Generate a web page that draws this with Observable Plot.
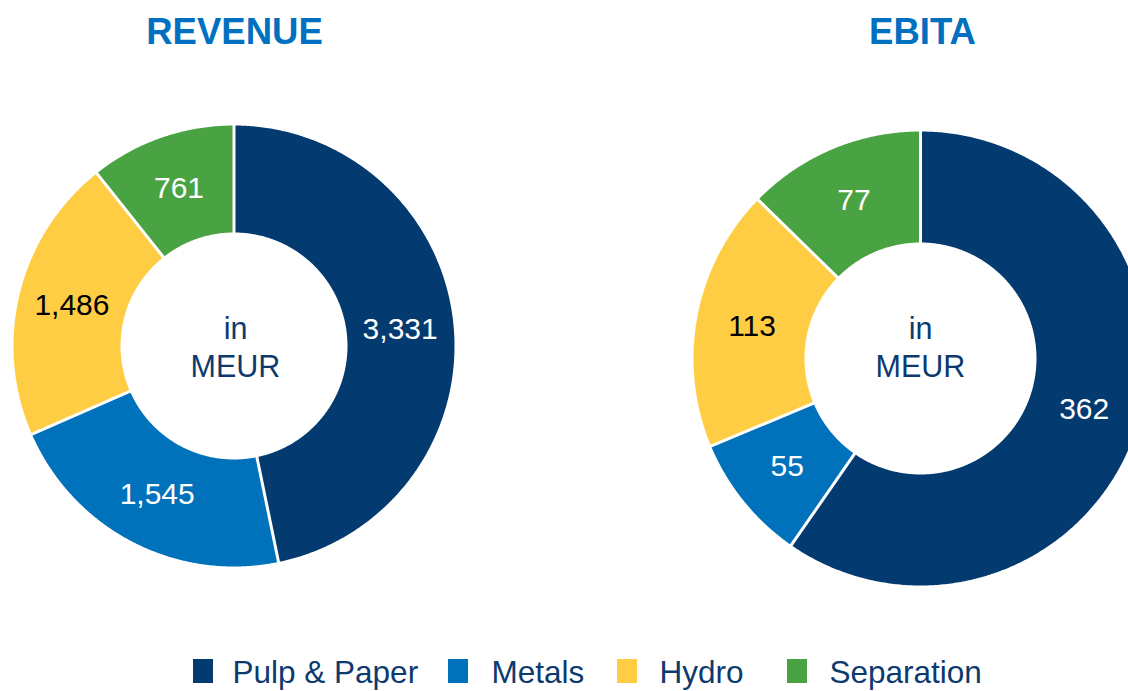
<!DOCTYPE html>
<html><head><meta charset="utf-8">
<script src="https://cdn.jsdelivr.net/npm/d3@7"></script>
<script src="https://cdn.jsdelivr.net/npm/@observablehq/plot@0.6"></script>
<style>html,body{margin:0;padding:0;background:#fff;overflow:hidden}#chart svg{display:block;overflow:hidden}</style>
</head><body><div id="chart"></div>
<script>
// ---- data ----
const segments = ["Pulp & Paper", "Metals", "Hydro", "Separation"];
const charts = ["REVENUE", "EBITA"];
const revenue = [3331, 1545, 1486, 761];
const ebita = [362, 55, 113, 77];
const centerLines = "in\nMEUR";

// ---- styling / layout ----
const colors = ["#033a70", "#0072bc", "#ffcd44", "#4aa342"];
const darkLabel = [false, false, true, false];
const navy = "#0d3a6e";
const W = 1128, H = 691;
const donutLayout = [
  {cx: 233.5, cy: 345.5, r0: 113.5, r1: 220.5, titleX: 234, textX: 235},
  {cx: 920, cy: 358, r0: 116, r1: 227, titleX: 922, textX: 920}
];
const titleY = 43, centerY = 345.5;
const legendLayout = {sq: [193, 448, 617, 787], tx: [232, 491, 659, 829], y0: 659, y1: 683, base: 682.5};

const values = [revenue, ebita];
const slices = [], seps = [], labels = [], centers = [], titles = [];
charts.forEach((title, ci) => {
  const L = donutLayout[ci];
  const pie = d3.pie().sort(null).startAngle(0).endAngle(2 * Math.PI)(values[ci]);
  pie.forEach((p, i) => {
    const key = title + "-" + i;
    const span = p.endAngle - p.startAngle;
    const steps = Math.max(2, Math.ceil(span / (Math.PI / 360)));
    for (let k = 0; k <= steps; k++) {
      const a = p.startAngle + span * k / steps;
      slices.push({key, seg: segments[i], x: L.cx + L.r1 * Math.sin(a), y: L.cy - L.r1 * Math.cos(a)});
    }
    for (let k = steps; k >= 0; k--) {
      const a = p.startAngle + span * k / steps;
      slices.push({key, seg: segments[i], x: L.cx + L.r0 * Math.sin(a), y: L.cy - L.r0 * Math.cos(a)});
    }
    const a0 = p.startAngle;
    seps.push({x1: L.cx + (L.r0 - 1) * Math.sin(a0), y1: L.cy - (L.r0 - 1) * Math.cos(a0),
               x2: L.cx + (L.r1 + 1) * Math.sin(a0), y2: L.cy - (L.r1 + 1) * Math.cos(a0)});
    const am = (p.startAngle + p.endAngle) / 2, rm = (L.r0 + L.r1) / 2;
    labels.push({x: L.cx + rm * Math.sin(am), y: L.cy - rm * Math.cos(am), text: d3.format(",")(p.value), dark: darkLabel[i]});
  });
  centers.push({x: L.textX, y: centerY, text: centerLines});
  titles.push({x: L.titleX, y: titleY, text: title});
});
const legend = segments.map((s, i) => ({seg: s, x1: legendLayout.sq[i], x2: legendLayout.sq[i] + 20, y1: legendLayout.y0, y2: legendLayout.y1, tx: legendLayout.tx[i], ty: legendLayout.base}));

const plot = Plot.plot({
  width: W, height: H, margin: 0,
  x: {domain: [0, W], range: [0, W], axis: null},
  y: {domain: [0, H], range: [0, H], axis: null},
  color: {domain: segments, range: colors},
  style: {fontFamily: "'Liberation Sans', Arial, sans-serif", background: "white", overflow: "hidden"},
  marks: [
    Plot.line(slices, {x: "x", y: "y", z: "key", fill: "seg", stroke: "none", curve: "linear-closed"}),
    Plot.link(seps, {x1: "x1", y1: "y1", x2: "x2", y2: "y2", stroke: "white", strokeWidth: 3}),
    Plot.text(labels.filter(d => !d.dark), {x: "x", y: "y", text: "text", fill: "white", fontSize: 30}),
    Plot.text(labels.filter(d => d.dark), {x: "x", y: "y", text: "text", fill: "black", fontSize: 30}),
    Plot.text(centers, {x: "x", y: "y", text: "text", fill: navy, fontSize: 30.5, lineHeight: 1.25}),
    Plot.text(titles, {x: "x", y: "y", text: "text", fill: "#0070c0", fontSize: 36.5, fontWeight: "bold", lineAnchor: "bottom"}),
    Plot.rect(legend, {x1: "x1", x2: "x2", y1: "y1", y2: "y2", fill: "seg"}),
    Plot.text(legend, {x: "tx", y: "ty", text: "seg", fill: navy, fontSize: 31.5, textAnchor: "start", lineAnchor: "bottom"})
  ]
});
document.getElementById("chart").appendChild(plot);
</script>
</body></html>
